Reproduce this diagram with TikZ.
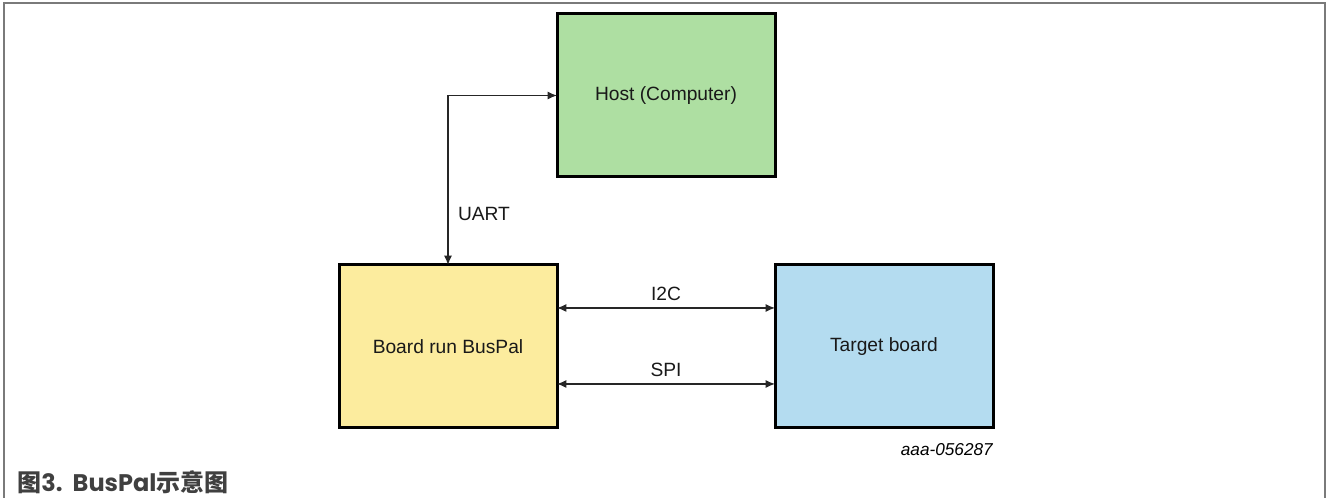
\documentclass[tikz,border=0pt]{standalone}
\usepackage{fontspec}
\setmainfont{Liberation Sans}
\newfontfamily\capfont{Poppins}
\newfontfamily\cjk{Noto Sans CJK SC}
\usetikzlibrary{positioning, arrows.meta}
\definecolor{hostgreen}{HTML}{AEDFA2}
\definecolor{palyellow}{HTML}{FCEC9E}
\definecolor{targetblue}{HTML}{B4DCF0}
\definecolor{framegray}{HTML}{7A7A7A}
\definecolor{capgray}{HTML}{404040}

\begin{document}
\begin{tikzpicture}[x = 0.75pt, y = -0.75pt, box/.style = {draw = black, line width = 2.25pt,
    minimum width = 163.5pt, minimum height = 122.25pt, inner sep = 0pt, outer sep = 0pt,
    font = \fontsize{14.4pt}{17pt}\selectfont, text = black!90},
    link/.style = {{Latex[length=7pt, width=6pt]}-{Latex[length=7pt, width=6pt]},
    line width = 1pt, draw = black!85},
    tag/.style = {font = \fontsize{14.4pt}{17pt}\selectfont, text = black!90, inner sep = 2pt}]
 \useasboundingbox (0,0) rectangle (1329,498);
 \draw[framegray, line width = 1.5pt] (4,498) |- (1325,3) -- (1325,498);

 \node (host) [box, fill = hostgreen] at (666,95.5) {Host (Computer)};
 \node (buspal) [box, fill = palyellow, below = 66pt of host.south west, anchor = north east] {Board run BusPal};
 \node (target) [box, fill = targetblue, right = 163.5pt of buspal] {Target board};

 % UART between host and BusPal board
 \draw[link] (buspal.north) |- (host.west) node[tag, pos = 0.15, right = 5pt] {UART};
 % I2C and SPI between the boards
 \draw[link] ([yshift = 28.9pt]buspal.east) -- ([yshift = 28.9pt]target.west)
   node[tag, midway, above = 3pt] {I2C};
 \draw[link] ([yshift = -28.1pt]buspal.east) -- ([yshift = -28.1pt]target.west)
   node[tag, midway, above = 3pt] {SPI};

 \node (figid) [anchor = east, inner sep = 0pt, font = \fontsize{12.9pt}{15pt}\selectfont\itshape]
   at ([yshift = -16.5pt]target.south east) {aaa-056287};
 \node (caption) [anchor = base west, inner sep = 0pt, text = capgray,
   font = \fontsize{18pt}{21pt}\selectfont\bfseries]
   at (17,492) {{\cjk\bfseries 图}{\capfont\bfseries 3.~~BusPal}{\cjk\bfseries 示意图}};
\end{tikzpicture}
\end{document}
